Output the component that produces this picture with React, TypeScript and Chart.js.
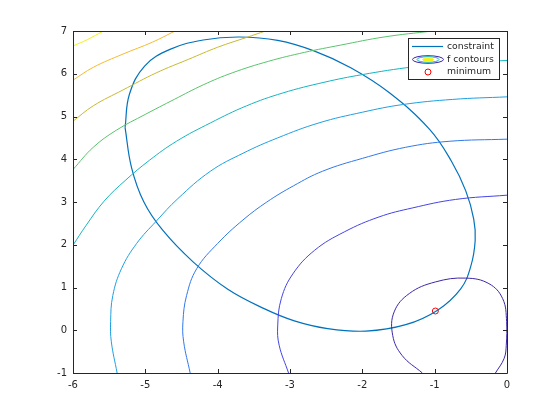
import React, { useEffect, useRef } from "react";
import { Chart, registerables } from "chart.js";
Chart.register(...registerables);

type P = [number, number];

const xTicks = [-6, -5, -4, -3, -2, -1, 0];
const yTicks = [-1, 0, 1, 2, 3, 4, 5, 6, 7];

const constraintPts: P[] = [
  [-5.28, 4.74], [-5.22, 5.52], [-5.01, 6.18], [-4.66, 6.57], [-4.2, 6.79], [-3.7, 6.86], [-3.17, 6.78],
  [-2.66, 6.53], [-2.16, 6.14], [-1.63, 5.56], [-1.07, 4.7], [-0.77, 3.96], [-0.57, 3.26], [-0.46, 2.6],
  [-0.44, 2.1], [-0.5, 1.5], [-0.64, 0.97], [-0.96, 0.47], [-1.4, 0.13], [-1.95, -0.02], [-2.48, 0.04],
  [-2.94, 0.22], [-3.35, 0.5], [-3.86, 0.96], [-4.34, 1.6], [-4.76, 2.34], [-5.02, 3.0], [-5.19, 3.8],
  [-5.28, 4.74],
];

const level1: P[] = [
  [-1.17, -1.0], [-1.45, -0.59], [-1.58, -0.12], [-1.56, 0.43], [-1.35, 0.86], [-0.99, 1.13], [-0.57, 1.22],
  [-0.25, 1.09], [-0.06, 0.74], [-0.005, 0.2], [-0.01, -0.35], [-0.04, -0.66], [-0.16, -1.0],
];
const level2: P[] = [
  [-3.02, -1.0], [-3.15, -0.35], [-3.17, 0.1], [-3.12, 0.74], [-2.96, 1.32], [-2.66, 1.87], [-2.25, 2.3],
  [-1.77, 2.65], [-1.31, 2.86], [-0.71, 3.06], [0.0, 3.16],
];
const level3: P[] = [
  [-4.38, -1.0], [-4.47, -0.27], [-4.48, 0.2], [-4.43, 0.81], [-4.29, 1.44], [-4.0, 2.03], [-3.65, 2.58],
  [-3.32, 3.0], [-2.95, 3.38], [-2.55, 3.72], [-2.0, 4.02], [-1.4, 4.28], [-0.8, 4.42], [0.0, 4.47],
];
const level4: P[] = [
  [-5.39, -1.0], [-5.47, -0.27], [-5.48, 0.2], [-5.45, 0.81], [-5.33, 1.44], [-5.12, 2.03], [-4.85, 2.55],
  [-4.55, 3.08], [-4.1, 3.72], [-3.65, 4.14], [-3.17, 4.5], [-2.6, 4.85], [-2.0, 5.1], [-1.44, 5.28],
  [-0.75, 5.4], [0.0, 5.46],
];
const level5: P[] = [
  [-6.0, 1.99], [-5.82, 2.45], [-5.57, 3.02], [-5.28, 3.5], [-4.94, 3.98], [-4.57, 4.42], [-4.1, 4.85],
  [-3.6, 5.25], [-3.1, 5.55], [-2.53, 5.8], [-2.0, 5.98], [-1.3, 6.16], [-0.6, 6.27], [0.0, 6.31],
];
const level6: P[] = [
  [-6.0, 3.76], [-5.72, 4.28], [-5.4, 4.68], [-5.0, 5.05], [-4.6, 5.4], [-4.2, 5.74], [-3.8, 6.02],
  [-3.3, 6.29], [-2.8, 6.5], [-2.3, 6.67], [-1.7, 6.86], [-1.03, 7.0],
];
const level7: P[] = [
  [-6.0, 4.89], [-5.72, 5.25], [-5.31, 5.62], [-4.85, 6.02], [-4.4, 6.34], [-4.0, 6.62], [-3.6, 6.85],
  [-3.34, 7.0],
];
const level8: P[] = [
  [-6.0, 5.85], [-5.72, 6.15], [-5.31, 6.46], [-4.9, 6.74], [-4.59, 7.0],
];
const level9: P[] = [
  [-6.0, 6.65], [-5.8, 6.8], [-5.58, 7.0],
];

const contourLevels = [level1, level2, level3, level4, level5, level6, level7, level8, level9];
const contourColors = [
  "#3e26a8", "#4444e4", "#3079ea", "#1ea0e2", "#14b5c2", "#58c46c", "#c8b92f", "#f6ba2c", "#f4f20e",
];
const minimumPt: P = [-0.99, 0.45];

const AXIS_COLOR = "#262626";
const FONT = "DejaVu Sans";

const frame = {
  id: "frame",
  afterDraw(chart: any) {
    const { ctx, chartArea: a, scales } = chart;
    ctx.save();
    ctx.strokeStyle = AXIS_COLOR;
    ctx.lineWidth = 1;
    ctx.beginPath();
    ctx.rect(Math.round(a.left) + 0.5, Math.round(a.top) + 0.5, Math.round(a.right - a.left), Math.round(a.bottom - a.top));
    ctx.stroke();
    const tl = 4;
    ctx.beginPath();
    for (const v of xTicks) {
      const px = Math.round(scales.x.getPixelForValue(v)) + 0.5;
      ctx.moveTo(px, a.bottom); ctx.lineTo(px, a.bottom - tl);
      ctx.moveTo(px, a.top); ctx.lineTo(px, a.top + tl);
    }
    for (const v of yTicks) {
      const py = Math.round(scales.y.getPixelForValue(v)) + 0.5;
      ctx.moveTo(a.left, py); ctx.lineTo(a.left + tl, py);
      ctx.moveTo(a.right, py); ctx.lineTo(a.right - tl, py);
    }
    ctx.stroke();

    // legend
    const lx = 408.5, ly = 38.5, lw = 91, lh = 41;
    ctx.fillStyle = "#ffffff";
    ctx.fillRect(lx, ly, lw, lh);
    ctx.strokeStyle = AXIS_COLOR;
    ctx.strokeRect(lx, ly, lw, lh);
    ctx.font = `9.3px ${FONT}`;
    ctx.textBaseline = "middle";
    ctx.fillStyle = AXIS_COLOR;
    const tx = 447;
    ctx.strokeStyle = "#0072bd";
    ctx.lineWidth = 1.2;
    ctx.beginPath(); ctx.moveTo(412, 46.5); ctx.lineTo(443, 46.5); ctx.stroke();
    ctx.fillText("constraint", tx, 46.5);
    const cy = 59.5, cx = 428;
    ctx.fillStyle = contourColors[8];
    ctx.beginPath(); ctx.ellipse(cx, cy, 5, 1.5, 0, 0, Math.PI * 2); ctx.fill();
    const rings: [number, number, string][] = [[15.5, 3.8, contourColors[0]], [11, 2.8, contourColors[4]], [5.5, 1.6, contourColors[8]]];
    for (const [rx, ry, col] of rings) {
      ctx.strokeStyle = col; ctx.lineWidth = 1;
      ctx.beginPath(); ctx.ellipse(cx, cy, rx, ry, 0, 0, Math.PI * 2); ctx.stroke();
    }
    ctx.fillStyle = AXIS_COLOR;
    ctx.fillText("f contours", tx, 59.5);
    ctx.strokeStyle = "#ff0000"; ctx.lineWidth = 1;
    ctx.beginPath(); ctx.arc(428, 72, 3, 0, Math.PI * 2); ctx.stroke();
    ctx.fillStyle = AXIS_COLOR;
    ctx.fillText("minimum", tx, 72);
    ctx.restore();
  },
};

export default function App() {
  const ref = useRef<HTMLCanvasElement | null>(null);
  useEffect(() => {
    if (!ref.current) return;
    const toXY = (pts: P[]) => pts.map(([x, y]) => ({ x, y }));
    const datasets: any[] = contourLevels.map((lv, i) => ({
      label: `level${i + 1}`,
      data: toXY(lv),
      showLine: true,
      borderColor: contourColors[i],
      borderWidth: 1,
      pointRadius: 0,
      tension: 0.4,
      fill: false,
    }));
    datasets.push({
      label: "constraint",
      data: toXY(constraintPts),
      showLine: true,
      borderColor: "#0072bd",
      borderWidth: 1.2,
      pointRadius: 0,
      tension: 0.4,
      fill: false,
    });
    datasets.push({
      label: "minimum",
      data: toXY([minimumPt]),
      showLine: false,
      pointRadius: 3,
      pointStyle: "circle",
      borderColor: "#ff0000",
      backgroundColor: "rgba(0,0,0,0)",
      borderWidth: 1,
    });
    const chart = new Chart(ref.current, {
      type: "scatter",
      data: { datasets },
      plugins: [frame],
      options: {
        responsive: false,
        animation: false,
        devicePixelRatio: 1,
        layout: { padding: { left: 0, top: 31, right: 53, bottom: 0 } },
        plugins: { legend: { display: false }, tooltip: { enabled: false } },
        scales: {
          x: {
            type: "linear", min: -6, max: 0,
            afterBuildTicks: (s: any) => { s.ticks = xTicks.map((v) => ({ value: v })); },
            afterFit: (s: any) => { s.height = 47; },
            grid: { display: false, drawTicks: false },
            border: { display: false },
            ticks: { padding: 6, color: AXIS_COLOR, font: { family: FONT, size: 10 } },
          },
          y: {
            type: "linear", min: -1, max: 7,
            afterBuildTicks: (s: any) => { s.ticks = yTicks.map((v) => ({ value: v })); },
            afterFit: (s: any) => { s.width = 73; },
            grid: { display: false, drawTicks: false },
            border: { display: false },
            ticks: { padding: 6, color: AXIS_COLOR, font: { family: FONT, size: 10 } },
          },
        },
      } as any,
    });
    return () => chart.destroy();
  }, []);
  return (
    <div style={{ position: "absolute", left: 0, top: 0, width: 560, height: 420, background: "#fff" }}>
      <canvas ref={ref} width={560} height={420} style={{ width: 560, height: 420 }} />
    </div>
  );
}
